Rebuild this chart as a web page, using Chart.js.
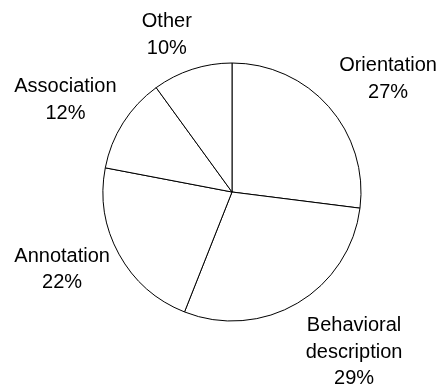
<!DOCTYPE html>
<html>
<head>
<meta charset="utf-8">
<script src="https://cdn.jsdelivr.net/npm/chart.js@4/dist/chart.umd.min.js"></script>
<style>
  html, body { margin: 0; padding: 0; background: #fff; }
  #wrap { width: 438px; height: 390px; }
</style>
</head>
<body>
<div id="wrap"><canvas id="c" width="438" height="390"></canvas></div>
<script>
// Share of each category, clockwise from 12 o'clock
const categories = ['Orientation', 'Behavioral description', 'Annotation', 'Association', 'Other'];
const labelLines = [['Orientation'], ['Behavioral', 'description'], ['Annotation'], ['Association'], ['Other']];
const shares = [27, 29, 22, 12, 10];

// Fine position adjustments for the outside labels (px)
const labelNudge = [[7.6, -2.8], [21.6, 1], [2.6, -5.8], [2.4, -3], [-11.4, 2.3]];

const FONT = '20px "Liberation Sans", Arial, sans-serif';
const LINE_H = 26.7;
const CAP_H = 14.3;
const GAP = 20;

const outsideLabels = {
  id: 'outsideLabels',
  afterDatasetsDraw(chart) {
    const ctx = chart.ctx;
    const meta = chart.getDatasetMeta(0);
    const data = chart.data.datasets[0].data;
    const total = data.reduce((a, b) => a + b, 0);
    ctx.save();
    ctx.font = FONT;
    ctx.fillStyle = '#000';
    ctx.textAlign = 'center';
    ctx.textBaseline = 'alphabetic';
    meta.data.forEach((arc, i) => {
      const p = arc.getProps(['x', 'y', 'startAngle', 'endAngle', 'outerRadius'], true);
      const mid = (p.startAngle + p.endAngle) / 2;
      const dx = Math.cos(mid), dy = Math.sin(mid);
      const lines = labelLines[i].concat([Math.round(data[i] / total * 100) + '%']);
      const w = Math.max(...lines.map(t => ctx.measureText(t).width));
      const h = (lines.length - 1) * LINE_H + CAP_H;
      const r = p.outerRadius + GAP;
      const cx = p.x + dx * r + dx * w / 2 + labelNudge[i][0];
      const cy = p.y + dy * r + dy * h / 2 + labelNudge[i][1];
      const firstBase = cy - h / 2 + CAP_H;
      lines.forEach((t, k) => ctx.fillText(t, cx, firstBase + k * LINE_H));
    });
    ctx.restore();
  }
};

new Chart(document.getElementById('c'), {
  type: 'pie',
  data: {
    labels: categories,
    datasets: [{
      data: shares,
      backgroundColor: '#ffffff',
      borderColor: '#000000',
      borderWidth: 1
    }]
  },
  options: {
    responsive: false,
    animation: false,
    radius: 129,
    layout: { padding: { left: 56, right: 30, top: 50, bottom: 56 } },
    plugins: {
      legend: { display: false },
      tooltip: { enabled: false }
    }
  },
  plugins: [outsideLabels]
});
</script>
</body>
</html>
